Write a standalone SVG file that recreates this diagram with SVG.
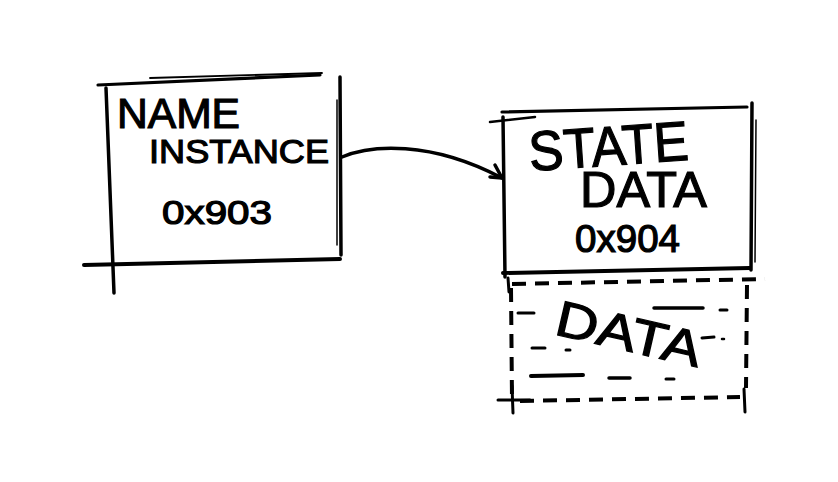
<svg xmlns="http://www.w3.org/2000/svg" width="838" height="482" viewBox="0 0 838 482">
<style>
.s{stroke:#000;fill:none;stroke-linecap:round;stroke-linejoin:round}
.d{stroke:#000;fill:none;stroke-linecap:butt;stroke-width:4;stroke-dasharray:14 9}
.txt{font-family:"Liberation Sans","DejaVu Sans",sans-serif;fill:#000;stroke:#000;stroke-width:1.2}
</style>
<rect width="838" height="482" fill="#fff"/>
<g id="name-instance">
<path class="s" stroke-width="3.2" d="M98,85 L320,75"/>
<path class="s" stroke-width="1.8" d="M150,78 L322,73"/>
<path class="s" stroke-width="3.5" d="M106,88 L114,293"/>
<path class="s" stroke-width="3.5" d="M340,77 L341,255"/>
<path class="s" stroke-width="1.5" d="M337,100 L337,245"/>
<path class="s" stroke-width="4" d="M84,265 L340,259"/>
<text class="txt" x="117" y="128" font-size="42" textLength="123" lengthAdjust="spacingAndGlyphs">NAME</text>
<text class="txt" x="149" y="163" font-size="34" textLength="180" lengthAdjust="spacingAndGlyphs">INSTANCE</text>
<text class="txt" x="162" y="224" font-size="33" textLength="110" lengthAdjust="spacingAndGlyphs">0x903</text>
</g>
<g id="state-data">
<path class="s" stroke-width="3.2" d="M502,112 L747,107"/>
<path class="s" stroke-width="2.5" d="M490,122 L535,117"/>
<path class="s" stroke-width="3.5" d="M503,117 L505,277"/>
<path class="s" stroke-width="3.5" d="M752,103 L751,270"/>
<path class="s" stroke-width="1.5" d="M756,120 L755,262"/>
<path class="s" stroke-width="4" d="M503,273 L750,268"/>
<text class="txt" x="530" y="171" font-size="56" textLength="160" lengthAdjust="spacingAndGlyphs" transform="rotate(-4 530 171)">STATE</text>
<text class="txt" x="580" y="207" font-size="50" textLength="127" lengthAdjust="spacingAndGlyphs">DATA</text>
<text class="txt" x="575" y="252" font-size="38" textLength="105" lengthAdjust="spacingAndGlyphs">0x904</text>
</g>
<g id="data">
<path class="d" d="M512,284 L765,279"/>
<path class="d" d="M511,288 L512,400"/>
<path class="d" d="M747,285 L746,388"/>
<path class="d" d="M520,401 L740,397"/>
<path class="s" stroke-width="3" d="M498,400 L530,400"/>
<path class="s" stroke-width="3" d="M512,386 L513,413"/>
<path class="s" stroke-width="3" d="M744,389 L745,412"/>
<path class="s" stroke-width="3" d="M508,278 L509,292"/>
<path class="s" stroke-width="3" d="M518,313 L534,313"/>
<path class="s" stroke-width="3.5" d="M654,308 L703,308"/>
<path class="s" stroke-width="3" d="M720,310 L727,310"/>
<path class="s" stroke-width="3" d="M702,338 L714,337"/>
<path class="s" stroke-width="2.5" d="M722,339 L724,339"/>
<path class="s" stroke-width="3" d="M532,348 L545,348"/>
<path class="s" stroke-width="3" d="M566,350 L570,350"/>
<path class="s" stroke-width="4" d="M531,376 L583,375"/>
<path class="s" stroke-width="3.5" d="M609,378 L630,378"/>
<path class="s" stroke-width="3" d="M666,379 L674,379"/>
<text class="txt" x="553" y="334" font-size="50" textLength="148" lengthAdjust="spacingAndGlyphs" transform="rotate(13 553 334)">DATA</text>
</g>
<g id="connectors">
<path class="s" stroke-width="3.5" d="M342,157 C370,145 430,140 502,178"/>
<path class="s" stroke-width="3.5" d="M495,165 L502,178 L490,177"/>
</g>
</svg>
